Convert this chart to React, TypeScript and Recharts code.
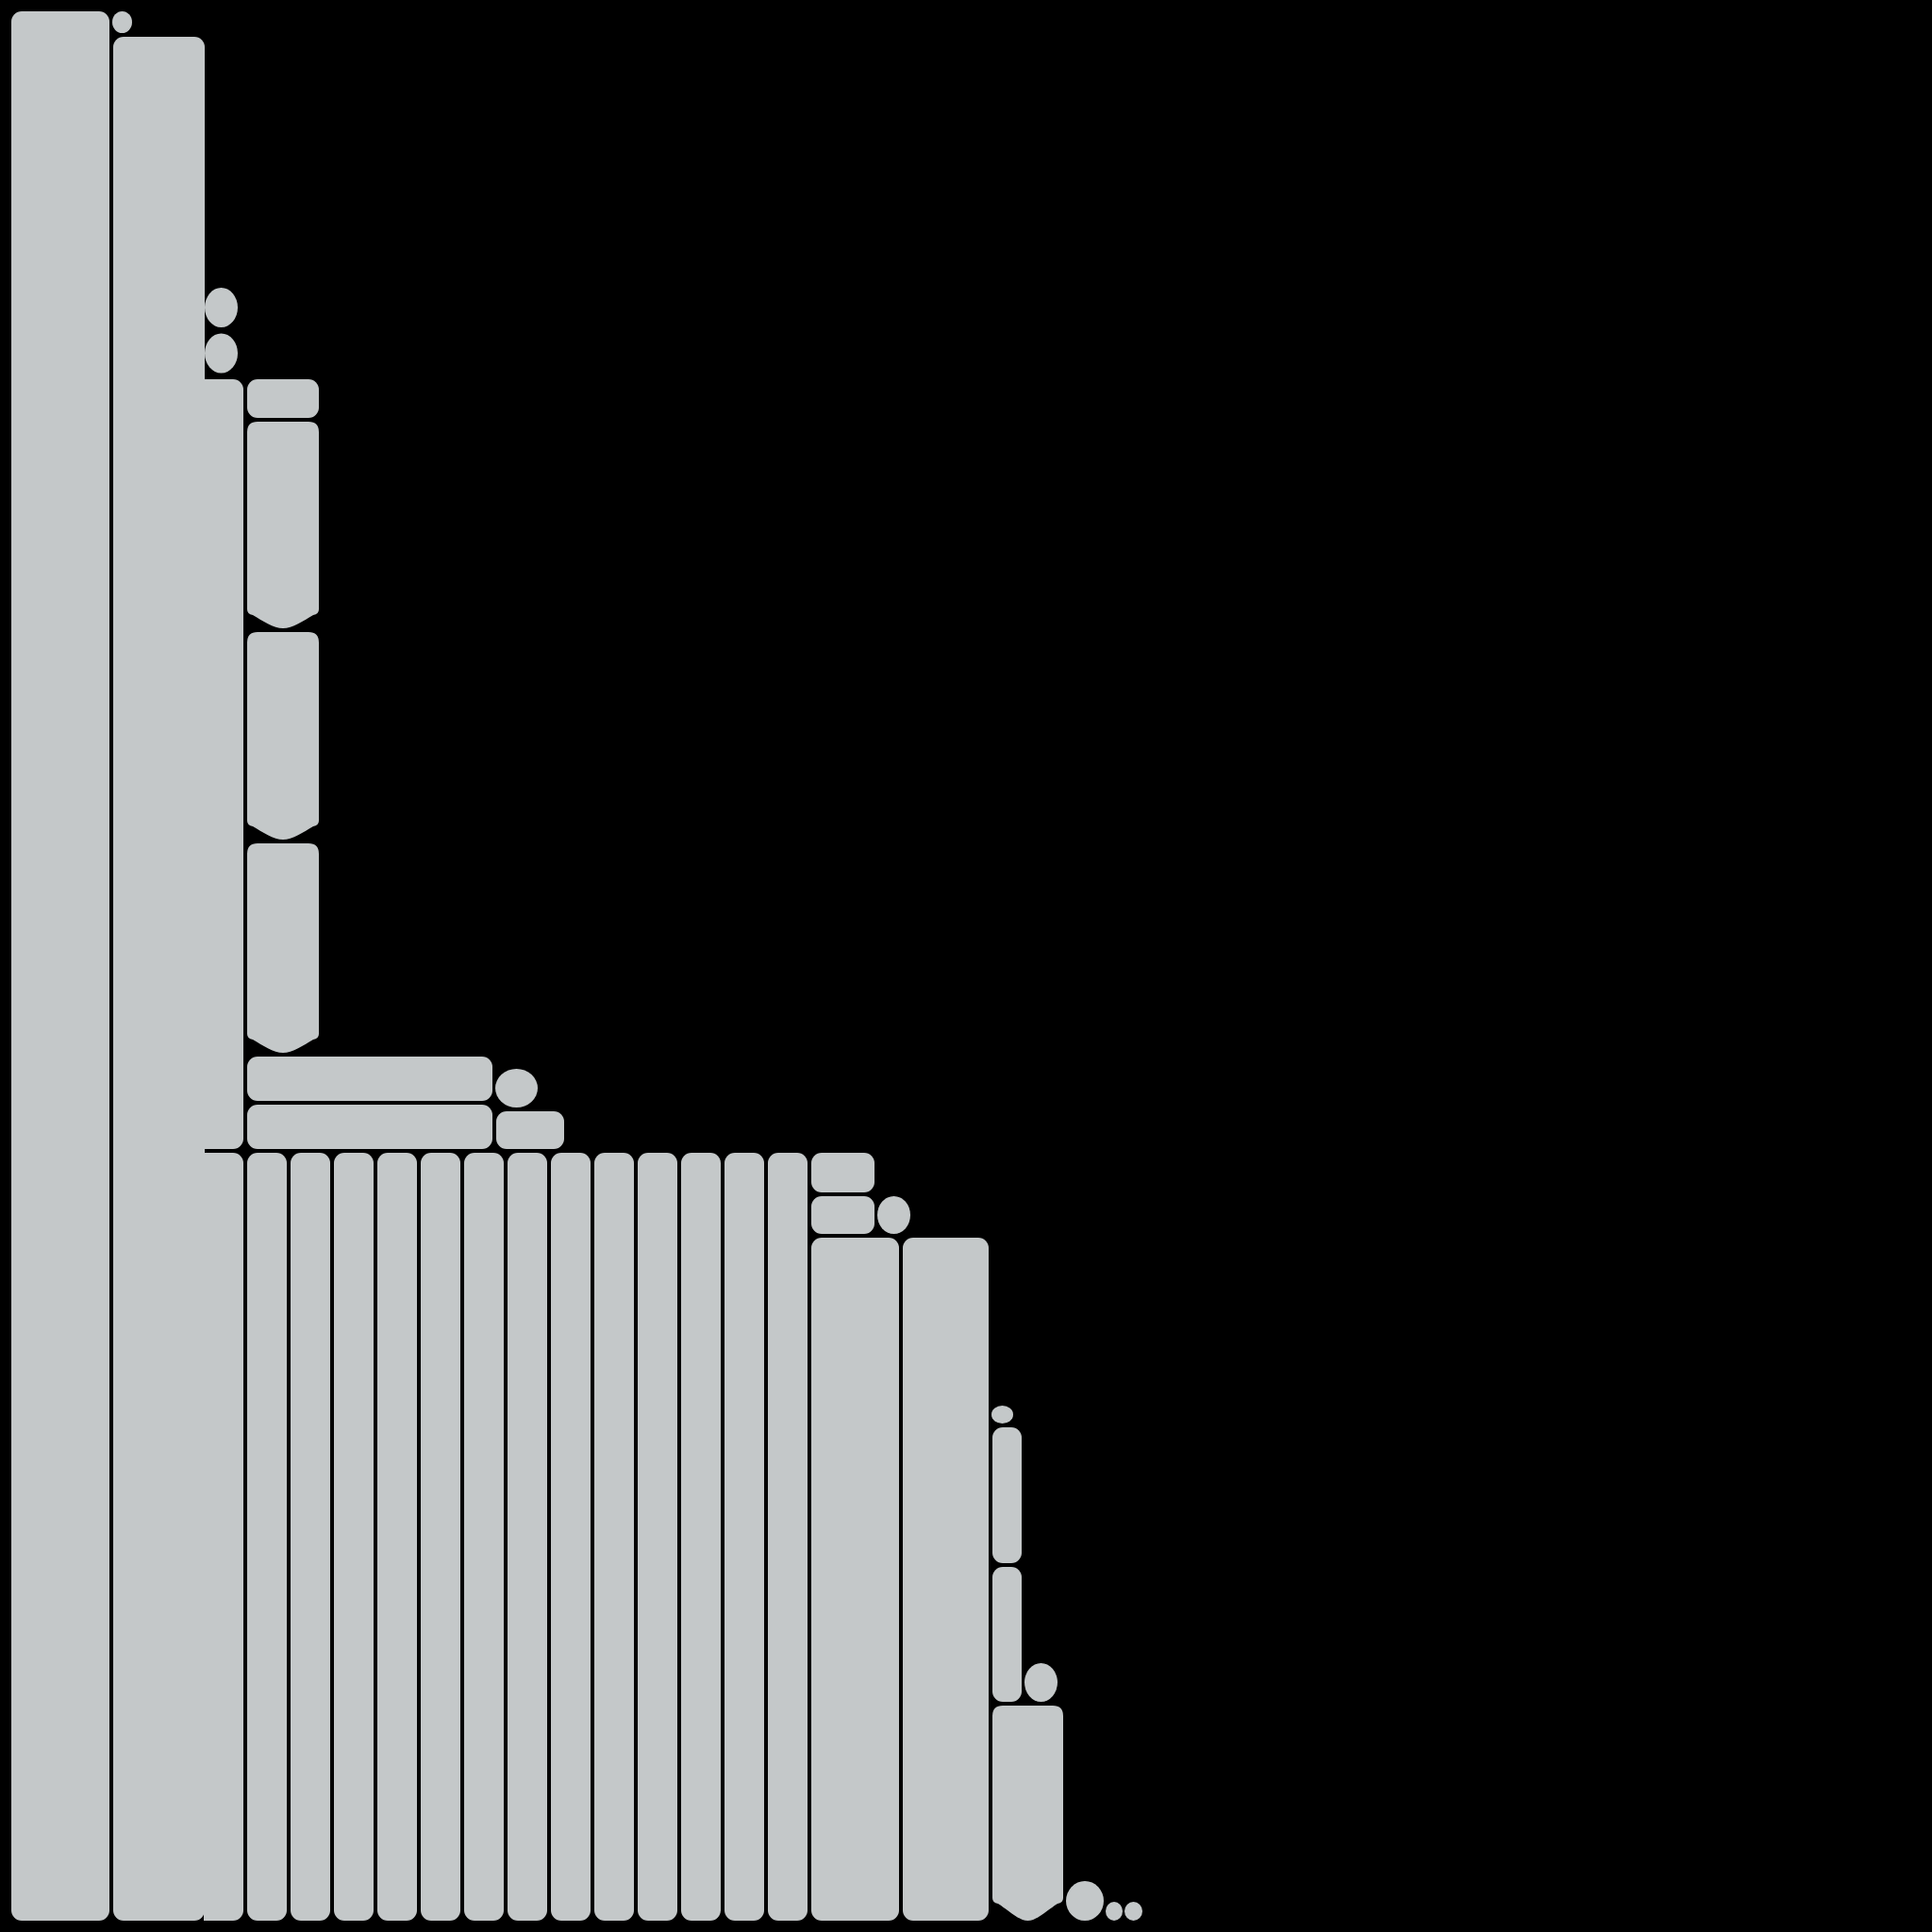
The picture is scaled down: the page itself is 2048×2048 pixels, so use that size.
import React from 'react';
import { Treemap } from 'recharts';

const FILL = '#c4c8c9';

// Cell sizes (areas in px²)
const leftColumns = [219024, 196098];
const capRow = [621, 2025];
const stackCircles = [1702, 1887];
const stackBlank = [112512, 33659];
const cBar = [36080];
const dColumn = [3600, 17840, 17920, 18080];
const dBlank = [186680];
const eBars = [13464, 13464];
const eSide = [611, 2115, 1682, 3344];
const upperBlank = [544500];
const lowerBars = [35992, 37628, 37628, 37628, 37628, 37628, 37628, 37628, 37628, 37628, 37628, 37628, 37628, 37628];
const fCells = [3266, 1702, 3124, 1628];
const fBlank = [7560];
const gBars = [70616, 69160];
const hBlank = [239436, 28620];
const hCircleRow = [575, 1081];
const hPills = [5180, 5145];
const hSide = [9250, 1665];
const iBar = [18328];
const tailBlank = [15438, 902];
const tailCircles = [1932, 480, 504];

type Node = { name: string; value?: number; k?: string; fx?: string; children?: Node[] };
let uid = 0;
const cell = (value: number, k = 'g', fx = ''): Node => ({ name: `c${uid++}`, value, k, fx });
const blank = (value: number) => cell(value, 'b');
const hinge = () => cell(0, 'z');
const group = (...children: Node[]): Node => ({ name: `g${uid++}`, children });

const data: Node[] = [
  hinge(),
  cell(leftColumns[0]),
  group(group(cell(capRow[0]), blank(capRow[1])), cell(leftColumns[1], 'g', 'r')),
  group(
    hinge(),
    group(
      group(
        group(
          group(blank(stackBlank[0]), group(group(cell(stackCircles[0]), cell(stackCircles[1])), blank(stackBlank[1]))),
          group(
            hinge(),
            cell(cBar[0], 'g', 'l'),
            group(
              group(
                hinge(),
                group(cell(dColumn[0]), cell(dColumn[1], 'g', 'd'), cell(dColumn[2], 'g', 'd'), cell(dColumn[3], 'g', 'd')),
                blank(dBlank[0]),
              ),
              group(
                group(hinge(), cell(eBars[0]), cell(eBars[1])),
                group(
                  group(group(blank(eSide[0]), hinge(), cell(eSide[1])), blank(eSide[2])),
                  hinge(),
                  cell(eSide[3]),
                ),
              ),
            ),
          ),
        ),
        blank(upperBlank[0]),
      ),
      group(
        group(hinge(), ...lowerBars.map((v, i) => cell(v, 'g', i === 0 ? 'l' : ''))),
        group(
          group(
            group(group(cell(fCells[0]), blank(fCells[1])), group(cell(fCells[2]), cell(fCells[3]))),
            blank(fBlank[0]),
          ),
          group(hinge(), cell(gBars[0]), cell(gBars[1])),
        ),
      ),
    ),
    group(
      blank(hBlank[0]),
      group(
        group(
          hinge(),
          group(
            group(cell(hCircleRow[0]), blank(hCircleRow[1])),
            group(hinge(), group(cell(hPills[0]), cell(hPills[1])), group(blank(hSide[0]), cell(hSide[1]))),
          ),
          blank(hBlank[1]),
        ),
        group(
          cell(iBar[0], 'g', 'D'),
          group(
            blank(tailBlank[0]),
            group(cell(tailCircles[0]), group(blank(tailBlank[1]), hinge(), group(cell(tailCircles[1]), cell(tailCircles[2])))),
          ),
        ),
      ),
    ),
  ),
];

const Cell = (props: any) => {
  const { x, y, width, height, k, fx } = props;
  if (k !== 'g' || !(width > 4) || !(height > 4)) return null;
  if (width - 4 < 50 && height - 4 < 50) {
    const rx = (width - 2) / 2;
    const ry = Math.min((height - 4) / 2, rx * 1.2);
    return <ellipse cx={x + width / 2} cy={y + height / 2} rx={rx} ry={ry} fill={FILL} />;
  }
  const X = x + (fx === 'l' ? 0 : 2);
  const Y = y + 2;
  const w = width - 4 + (fx === 'l' ? 2 : fx === 'r' ? 3 : 0);
  const h = height - 4;
  const r = Math.min(11, w / 2, h / 2);
  if (fx === 'd' || fx === 'D') {
    const yb = Y + h;
    const d = fx === 'D' ? 22 : 18;
    const cx = X + w / 2;
    const R = X + w;
    const p = [
      `M${X + r},${Y}`,
      `H${R - r}`,
      `Q${R},${Y} ${R},${Y + r}`,
      `V${yb - d - 2}`,
      `Q${R},${yb - d + 3} ${R - 6},${yb - d + 4}`,
      `C${R - 16},${yb - d + 10} ${cx + 10},${yb} ${cx},${yb}`,
      `C${cx - 10},${yb} ${X + 16},${yb - d + 10} ${X + 6},${yb - d + 4}`,
      `Q${X},${yb - d + 3} ${X},${yb - d - 2}`,
      `V${Y + r}`,
      `Q${X},${Y} ${X + r},${Y}`,
      'Z',
    ].join(' ');
    return <path d={p} fill={FILL} />;
  }
  return (
    <g>
      <rect x={X} y={Y} width={w} height={h} rx={r} ry={r} fill={FILL} />
      {fx === 'l' ? <rect x={X} y={Y} width={r + 1} height={h} fill={FILL} /> : null}
    </g>
  );
};

export default function App() {
  return (
    <div style={{ position: 'fixed', left: 0, top: 0, width: 2048, height: 2048, background: '#000' }}>
      <div style={{ position: 'absolute', left: 10, top: 10 }}>
        <Treemap
          width={1202}
          height={2028}
          data={data}
          dataKey="value"
          isAnimationActive={false}
          content={<Cell />}
        />
      </div>
    </div>
  );
}
